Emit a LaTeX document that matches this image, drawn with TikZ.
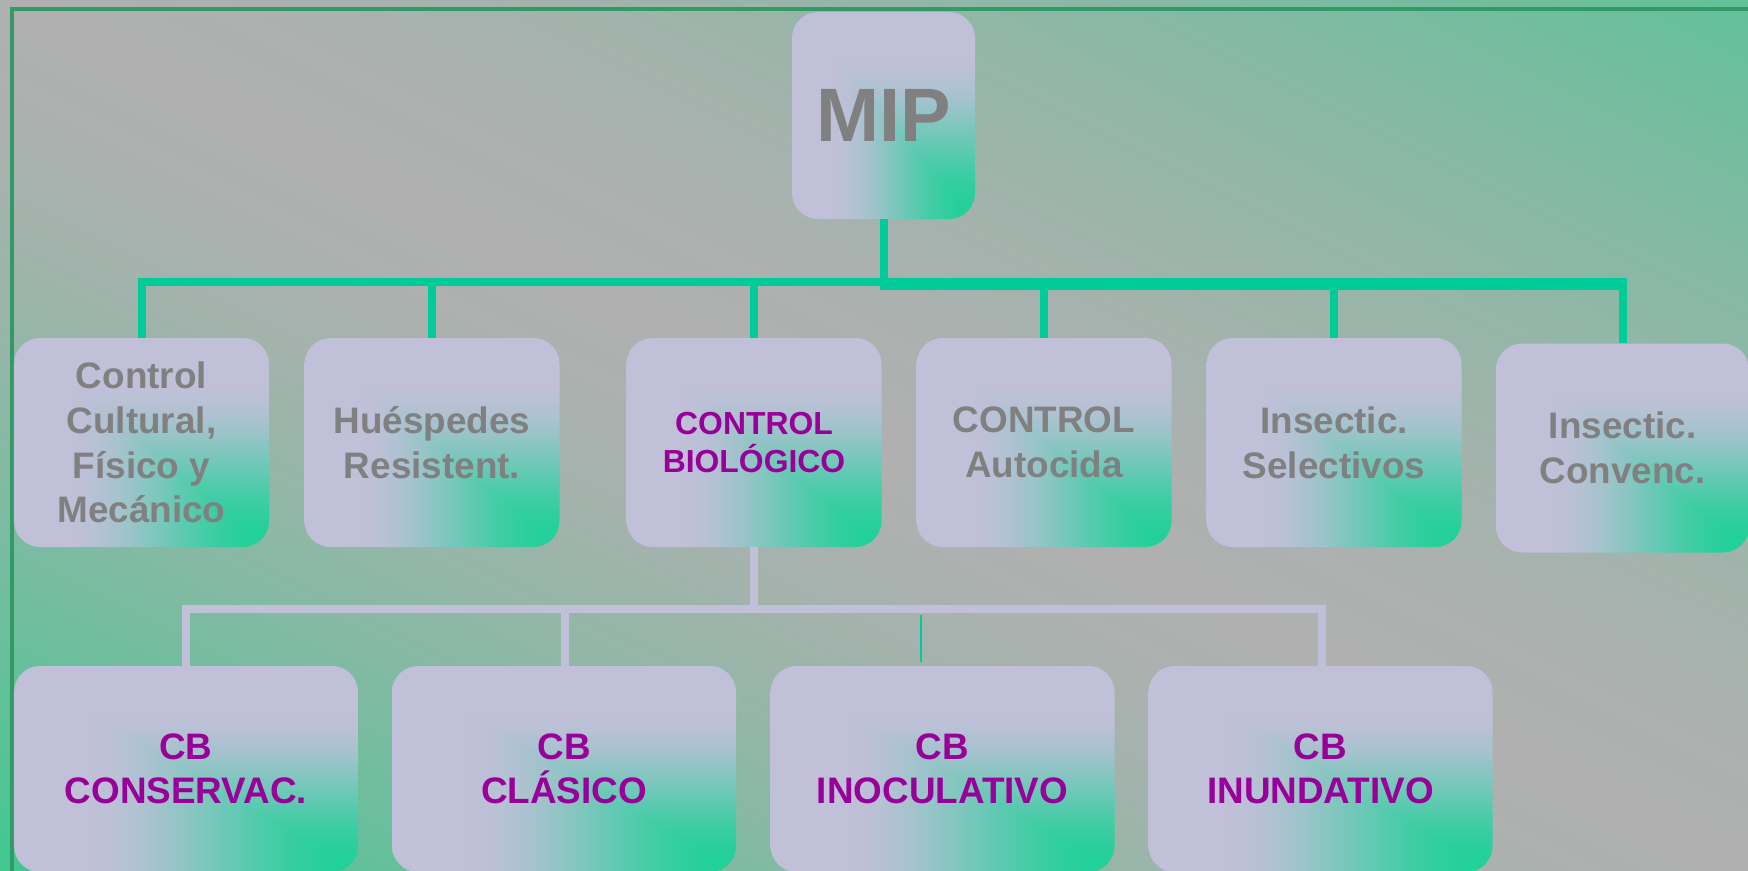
\documentclass[tikz,border=0pt]{standalone}
\usepackage{fontspec}
\setmainfont{Liberation Sans}
\definecolor{toplinec}{RGB}{0,204,153}
\definecolor{botlinec}{RGB}{192,192,216}
\definecolor{framec}{RGB}{51,153,102}
\definecolor{txtgray}{RGB}{128,128,128}
\definecolor{txtpurple}{RGB}{153,0,153}
\pgfdeclarefunctionalshading{boxgrad}{\pgfpoint{0bp}{0bp}}{\pgfpoint{100bp}{100bp}}{}{
 25 sub 50 div exch 75 exch sub 50 div 2 copy lt {exch} if pop
 0.8 div dup 1 gt {pop 1} if dup 0 lt {pop 0} if
 dup dup mul exch 2 mul 3 exch sub mul
 dup 0.628 mul 0.125 add exch dup -0.063 mul 0.816 add exch 0.251 mul 0.596 add
}
\pgfdeclarefunctionalshading{bggrad}{\pgfpoint{0bp}{0bp}}{\pgfpoint{100bp}{100bp}}{}{
 add 100 sub 50 div dup 0 lt {neg 1.5 exp} {1.5 exp 0.7 mul} ifelse
 dup 1 gt {pop 1} if
 dup -0.439 mul 0.690 add exch dup 0.094 mul 0.690 add exch -0.125 mul 0.690 add
}
\begin{document}
\begin{tikzpicture}[x=1bp,y=-1bp,
  box/.style={rounded corners=26bp, shade, shading=boxgrad, inner sep=0pt, align=center,
    text=txtgray, font=\bfseries\fontsize{37}{45}\selectfont},
  toprow/.style={box, minimum width=255bp, minimum height=209bp},
  botrow/.style={box, minimum width=344bp, minimum height=206bp, text=txtpurple,
    font=\bfseries\fontsize{37}{44}\selectfont},
  tline/.style={draw=toplinec, line width=8bp},
  bline/.style={draw=botlinec, line width=8bp}]
\useasboundingbox (0,0) rectangle (1748,871);
\shade[shading=bggrad] (0,0) rectangle (1748,871);
\draw[framec, line width=4bp] (1748,9) -- (12,9) -- (12,873);

\node[box, minimum width=183bp, minimum height=207bp, font=\bfseries\fontsize{76}{80}\selectfont] (mip) at (883.5,115.5) {MIP};

\node[toprow] (c1) at (141.5,442.5) {Control\\Cultural,\\Físico y\\Mecánico};
\node[toprow] (c2) at (432,442.5) {Huéspedes\\Resistent.};
\node[toprow, text=txtpurple, font=\bfseries\fontsize{32}{38}\selectfont] (c3) at (754,442.5) {CONTROL\\BIOLÓGICO};
\node[toprow] (c4) at (1044,442.5) {CONTROL\\Autocida};
\node[toprow] (c5) at (1334,442.5) {Insectic.\\Selectivos};
\node[toprow, minimum width=253bp] (c6) at (1622.5,448) {Insectic.\\Convenc.};

\node[botrow] (b1) at (186,769) {CB\\CONSERVAC.};
\node[botrow] (b2) at (564,769) {CB\\CLÁSICO};
\node[botrow] (b3) at (942.5,769) {CB\\INOCULATIVO};
\node[botrow] (b4) at (1320.5,769) {CB\\INUNDATIVO};

% top connectors
\coordinate (busT) at (883.5,282);
\coordinate (busTR) at (879.5,284);
\draw[tline] (mip.south) -- (busT) -| (c1.north);
\draw[tline] (busT) -| (c2.north);
\draw[tline] (busT) -| (c3.north);
\draw[tline] (busT) -| (c4.north);
\draw[tline] (busT) -| (c5.north);
\draw[tline] (busT) -| (c6.north);
\draw[tline, line width=12bp, shorten >=-4bp] (busTR) -- (busTR -| c6.north);

% bottom connectors
\coordinate (busB) at (754,609);
\draw[bline] (c3.south) -- (busB) -| (b1.north);
\draw[bline] (busB) -| ([xshift=1bp]b2.north);
\draw[bline] (busB) -| ([xshift=1.5bp]b4.north);
\coordinate (gtick) at (921,615);
\draw[draw=toplinec, line width=2bp, shorten >=4bp] (gtick) -- (gtick |- b3.north);
\end{tikzpicture}
\end{document}
